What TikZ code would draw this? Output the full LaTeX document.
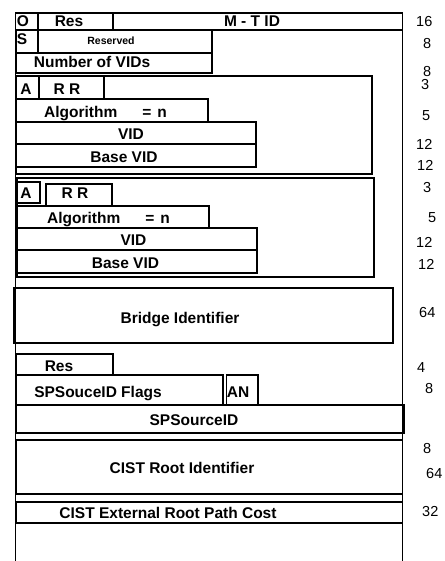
\documentclass[tikz,border=0pt]{standalone}
\usepackage{fontspec}
\setmainfont{Liberation Sans}
\usepackage{tikz}

\begin{document}
\begin{tikzpicture}[x={(1pt,0pt)}, y={(0pt,-1pt)},
  field/.style={draw, line width=1.7pt},
  txt/.style={anchor=base, inner sep=0pt, font=\fontsize{15.5}{18}\selectfont\bfseries},
  tiny/.style={anchor=base, inner sep=0pt, font=\fontsize{10.5}{12}\selectfont\bfseries},
  len/.style={anchor=base west, inner sep=0pt, font=\fontsize{14.5}{17}\selectfont}]
  \useasboundingbox (0,0) rectangle (444,561);

  % Frame
  \draw[field] (15.5,561) -- (15.5,13) -- (402.5,13) -- (402.5,561);

  % Header fields
  \draw[field] (15.5,13) rectangle (402.5,30);
  \draw[field] (38,13) -- (38,30);
  \draw[field] (113,13) -- (113,30);
  \draw[field] (16.5,30) rectangle (38,53);
  \draw[field] (38,30) rectangle (212,53);
  \draw[field] (16.5,53) rectangle (212,73);

  % MSTI block 1
  \draw[field] (16.5,76) rectangle (372,174);
  \draw[field] (16.5,76) rectangle (39,99);
  \draw[field] (39,76) rectangle (104,99);
  \draw[field] (16.5,99) rectangle (208,122);
  \draw[field] (16.5,122) rectangle (256,144);
  \draw[field] (16.5,144) rectangle (256,167);

  % MSTI block 2
  \draw[field] (17,178) rectangle (374,277);
  \draw[field] (17,182) rectangle (40,203);
  \draw[field] (46,184) rectangle (112,206);
  \draw[field] (17,206) rectangle (209,228);
  \draw[field] (17,228) rectangle (257,250);
  \draw[field] (17,250) rectangle (257,273);

  % Lower fields
  \draw[field] (14,288) rectangle (393,343);
  \draw[field] (16.5,354) rectangle (113,375);
  \draw[field] (16.5,375) rectangle (223,405);
  \draw[field] (226.5,375) rectangle (258,405);
  \draw[field] (16.5,405) rectangle (404,433);
  \draw[field] (16.5,440) rectangle (402.5,494);
  \draw[field] (16.5,502) rectangle (402.5,523);

  % Labels
  \node[txt] (OFlag) at (23,27) {O};
  \node[txt] (ResTop) at (69,27) {Res};
  \node[txt] (MTID) at (252,27) {M - T ID};
  \node[txt] (SFlag) at (22,45) {S};
  \node[tiny] (Reserved) at (111,45) {Reserved};
  \node[txt] (NumVIDs) at (92,68) {Number of VIDs};

  \node[txt] (A1) at (26,95) {A};
  \node[txt] (RR1) at (67,95) {R R};
  \node[txt,anchor=base west] (Alg1) at (44,118) {Algorithm\hspace{25pt}=\hspace{6pt}n};
  \node[txt] (VID1) at (131,140) {VID};
  \node[txt] (BaseVID1) at (124,163) {Base VID};

  \node[txt] (A2) at (26,198) {A};
  \node[txt] (RR2) at (75,199) {R R};
  \node[txt,anchor=base west] (Alg2) at (47,223) {Algorithm\hspace{25pt}=\hspace{6pt}n};
  \node[txt] (VID2) at (133.5,245) {VID};
  \node[txt] (BaseVID2) at (125.5,268) {Base VID};

  \node[txt] (BridgeID) at (180,323) {Bridge Identifier};
  \node[txt] (ResLow) at (59,371) {Res};
  \node[txt] (SPFlags) at (98,397) {SPSouceID Flags};
  \node[txt] (AN) at (238,397) {AN};
  \node[txt] (SPSourceID) at (194,425) {SPSourceID};
  \node[txt] (CISTRoot) at (182,473) {CIST Root Identifier};
  \node[txt] (CISTCost) at (168,518) {CIST External Root Path Cost};

  % Lengths
  \node[len] (Len1) at (416,27) {16};
  \node[len] (Len2) at (423,49) {8};
  \node[len] (Len3) at (423,77) {8};
  \node[len] (Len4) at (421,90) {3};
  \node[len] (Len5) at (422,121) {5};
  \node[len] (Len6) at (416,150) {12};
  \node[len] (Len7) at (417,171) {12};
  \node[len] (Len8) at (423,193) {3};
  \node[len] (Len9) at (428,222) {5};
  \node[len] (Len10) at (416,247) {12};
  \node[len] (Len11) at (418,269) {12};
  \node[len] (Len12) at (419,317) {64};
  \node[len] (Len13) at (417,372) {4};
  \node[len] (Len14) at (425,393) {8};
  \node[len] (Len15) at (423,453) {8};
  \node[len] (Len16) at (426,478) {64};
  \node[len] (Len17) at (422,516) {32};
\end{tikzpicture}
\end{document}
